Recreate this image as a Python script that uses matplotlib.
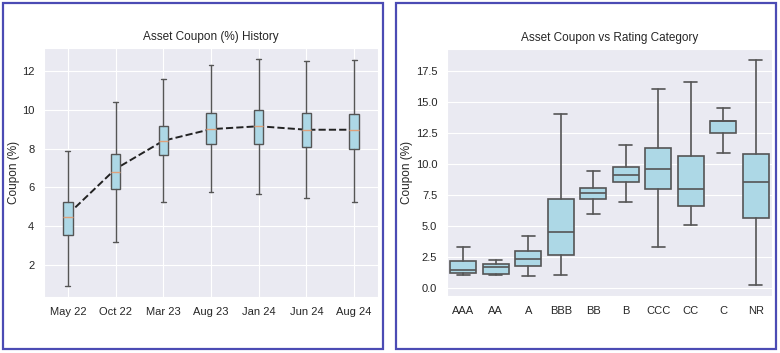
import numpy as np
import matplotlib
matplotlib.use("Agg")
import matplotlib.pyplot as plt
import seaborn as sns
from matplotlib.patches import Rectangle

# left panel: coupon history
dates = ["May 22", "Oct 22", "Mar 23", "Aug 23", "Jan 24", "Jun 24", "Aug 24"]
hist_low = [0.93, 3.20, 5.26, 5.75, 5.64, 5.47, 5.26]
hist_q1 = [3.53, 5.90, 7.65, 8.22, 8.24, 8.10, 7.96]
hist_med = [4.49, 6.81, 8.41, 9.01, 9.16, 8.96, 8.96]
hist_q3 = [5.26, 7.70, 9.18, 9.85, 9.97, 9.82, 9.80]
hist_high = [7.88, 10.40, 11.57, 12.33, 12.60, 12.50, 12.55]
hist_trend = [4.6, 6.95, 8.4, 9.0, 9.15, 8.97, 8.97]

# right panel: coupon by rating
ratings = ["AAA", "AA", "A", "BBB", "BB", "B", "CCC", "CC", "C", "NR"]
rat_low = [1.05, 1.00, 0.97, 1.02, 5.94, 6.91, 3.33, 5.08, 10.91, 0.24]
rat_q1 = [1.18, 1.10, 1.77, 2.61, 7.18, 8.58, 7.96, 6.61, 12.47, 5.65]
rat_med = [1.40, 1.69, 2.34, 4.49, 7.63, 9.14, 9.60, 7.98, 13.45, 8.58]
rat_q3 = [2.20, 1.91, 2.93, 7.20, 8.09, 9.78, 11.26, 10.62, 13.49, 10.78]
rat_high = [3.31, 2.26, 4.22, 14.06, 9.44, 11.51, 16.05, 16.64, 14.49, 18.39]

sns.set_style("darkgrid")
plt.rcParams['font.family'] = ['Liberation Sans', 'DejaVu Sans']

edge = "#555555"

def make_stats(low, q1, med, q3, high):
    stats = []
    for i in range(len(low)):
        stats.append(dict(whislo=low[i], q1=q1[i], med=med[i], q3=q3[i], whishi=high[i], fliers=[]))
    return stats

fig = plt.figure(figsize=(7.8, 3.53), dpi=100)
fig.patches.append(Rectangle((3/780, 4/353), 380/780, 346/353, transform=fig.transFigure,
                             fill=False, edgecolor="#4b4bb4", linewidth=1.6))
fig.patches.append(Rectangle((396/780, 4/353), 380/780, 346/353, transform=fig.transFigure,
                             fill=False, edgecolor="#4b4bb4", linewidth=1.6))

ax1 = fig.add_axes([44/780, 1-297/353, 334/780, 249/353])
pos1 = np.arange(1, len(dates)+1)
ax1.plot(pos1, hist_trend, color="#222222", ls="--", linewidth=1.4, zorder=2)
ax1.bxp(make_stats(hist_low, hist_q1, hist_med, hist_q3, hist_high), positions=pos1,
        widths=0.2, patch_artist=True, showfliers=False, manage_ticks=False,
        boxprops=dict(facecolor="lightblue", edgecolor=edge, linewidth=1),
        whiskerprops=dict(color=edge, linewidth=1),
        capprops=dict(color=edge, linewidth=1),
        medianprops=dict(color="#e0a07a", linewidth=1), zorder=3)
ax1.set_xticks(pos1)
ax1.set_xticklabels(dates)
ax1.set_xlim(0.5, len(dates)+0.5)
ax1.set_yticks([2, 4, 6, 8, 10, 12])
ax1.set_title("Asset Coupon (%) History", fontsize=8.5)
ax1.set_ylabel("Coupon (%)", fontsize=8.5, labelpad=1)
ax1.tick_params(labelsize=8)

ax2 = fig.add_axes([447/780, 1-296/353, 325/780, 247/353])
pos2 = np.arange(len(ratings))
ax2.bxp(make_stats(rat_low, rat_q1, rat_med, rat_q3, rat_high), positions=pos2,
        widths=0.8, capwidths=0.4, patch_artist=True, showfliers=False, manage_ticks=False,
        boxprops=dict(facecolor="lightblue", edgecolor=edge, linewidth=1.2),
        whiskerprops=dict(color=edge, linewidth=1.2),
        capprops=dict(color=edge, linewidth=1.2),
        medianprops=dict(color=edge, linewidth=1.2))
ax2.set_xticks(pos2)
ax2.set_xticklabels(ratings)
ax2.set_xlim(-0.5, len(ratings)-0.5)
ax2.set_yticks([0, 2.5, 5, 7.5, 10, 12.5, 15, 17.5])
ax2.set_yticklabels(["0.0", "2.5", "5.0", "7.5", "10.0", "12.5", "15.0", "17.5"])
ax2.xaxis.grid(False)
ax2.set_title("Asset Coupon vs Rating Category", fontsize=8.5)
ax2.set_ylabel("Coupon (%)", fontsize=8.5, labelpad=2)
ax2.tick_params(labelsize=8)

fig.savefig("out.png", dpi=100)
